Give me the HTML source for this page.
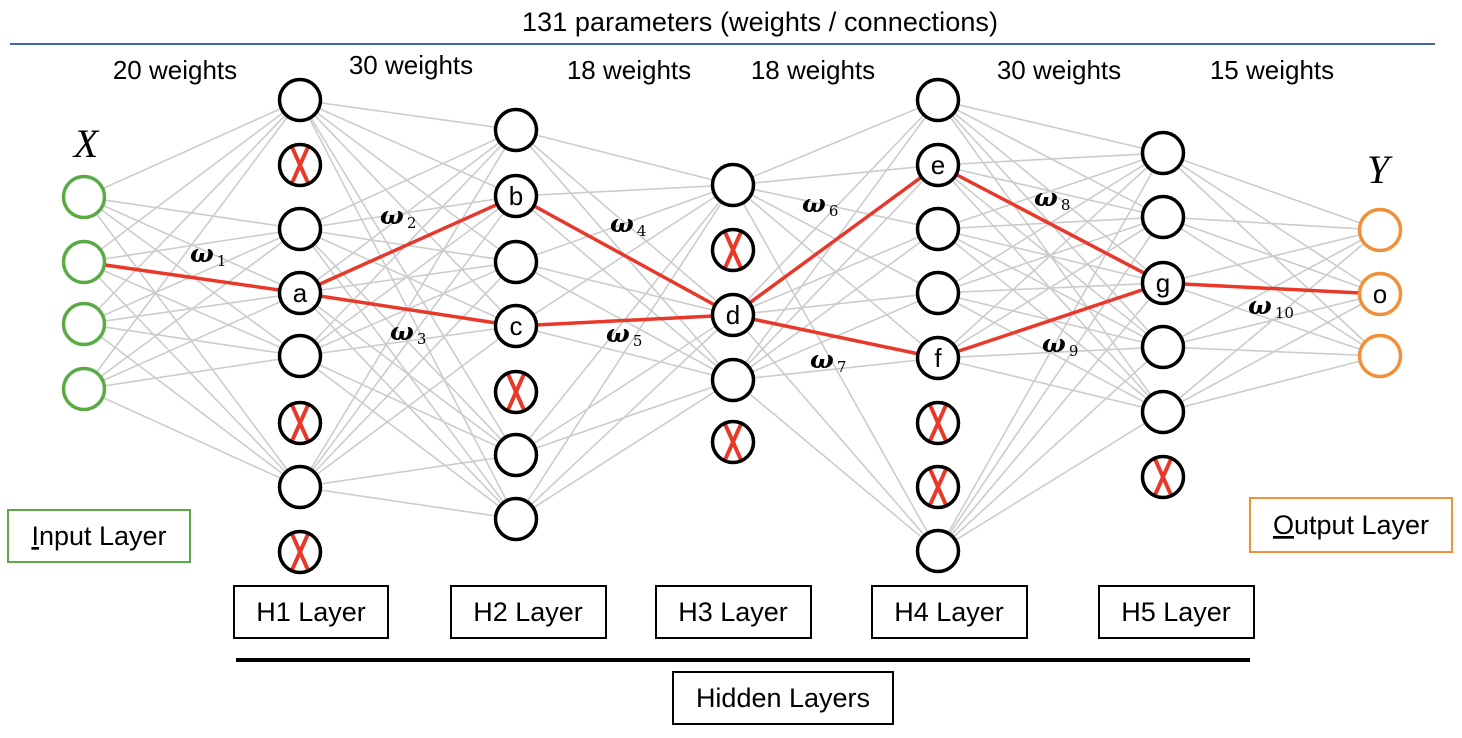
<!DOCTYPE html>
<html><head><meta charset="utf-8"><style>
html,body{margin:0;padding:0;background:#fff;}
svg{display:block;font-family:"Liberation Sans",sans-serif;}
</style></head><body>
<svg id="s" width="1462" height="738" viewBox="0 0 1462 738" xmlns="http://www.w3.org/2000/svg">
<rect width="1462" height="738" fill="#fff"/>
<g id="gray" stroke="#cccccc" stroke-width="1.6"></g>
<g id="red" stroke="#e8382a" stroke-width="3.5"></g>
<g id="nodes"></g>
<text x="760" y="31" font-size="27" text-anchor="middle" textLength="476">131 parameters (weights / connections)</text>
<line x1="10" y1="44" x2="1435" y2="44" stroke="#41689e" stroke-width="2"/>
<g font-size="26" text-anchor="middle">
<text x="175" y="79">20 weights</text>
<text x="411" y="74">30 weights</text>
<text x="629" y="79">18 weights</text>
<text x="813" y="79">18 weights</text>
<text x="1059" y="79">30 weights</text>
<text x="1272" y="79">15 weights</text>
</g>
<g font-family="Liberation Serif,serif" font-style="italic" font-size="40" text-anchor="middle">
<text x="86" y="157">X</text>
<text x="1378" y="183">Y</text>
</g>
<g font-family="DejaVu Serif,serif" font-style="italic" font-size="25" font-weight="bold">
<text x="190" y="262">ω<tspan font-size="15" font-weight="normal" font-style="normal" dx="3" dy="4">1</tspan></text>
<text x="380" y="224">ω<tspan font-size="15" font-weight="normal" font-style="normal" dx="3" dy="4">2</tspan></text>
<text x="390" y="340">ω<tspan font-size="15" font-weight="normal" font-style="normal" dx="3" dy="4">3</tspan></text>
<text x="610" y="232">ω<tspan font-size="15" font-weight="normal" font-style="normal" dx="3" dy="4">4</tspan></text>
<text x="606" y="342">ω<tspan font-size="15" font-weight="normal" font-style="normal" dx="3" dy="4">5</tspan></text>
<text x="802" y="212">ω<tspan font-size="15" font-weight="normal" font-style="normal" dx="3" dy="4">6</tspan></text>
<text x="810" y="368">ω<tspan font-size="15" font-weight="normal" font-style="normal" dx="3" dy="4">7</tspan></text>
<text x="1034" y="206">ω<tspan font-size="15" font-weight="normal" font-style="normal" dx="3" dy="4">8</tspan></text>
<text x="1042" y="352">ω<tspan font-size="15" font-weight="normal" font-style="normal" dx="3" dy="4">9</tspan></text>
<text x="1248" y="314">ω<tspan font-size="15" font-weight="normal" font-style="normal" dx="3" dy="4">10</tspan></text>
</g>
<g fill="none" stroke-width="2">
<rect x="8" y="510" width="182" height="52" stroke="#5aab46"/>
<rect x="1250" y="498" width="202" height="54" stroke="#f0913a"/>
<rect x="234" y="586" width="154" height="52" stroke="#000"/>
<rect x="451" y="586" width="155" height="52" stroke="#000"/>
<rect x="656" y="586" width="155" height="52" stroke="#000"/>
<rect x="872" y="586" width="155" height="52" stroke="#000"/>
<rect x="1099" y="586" width="155" height="52" stroke="#000"/>
<rect x="673" y="672" width="220" height="52" stroke="#000"/>
</g>
<line x1="236" y1="660" x2="1250" y2="660" stroke="#000" stroke-width="4"/>
<g font-size="27" text-anchor="middle">
<text x="99" y="545"><tspan text-decoration="underline">I</tspan>nput Layer</text>
<text x="1351" y="534"><tspan text-decoration="underline">O</tspan>utput Layer</text>
<text x="311" y="621">H1 Layer</text>
<text x="528" y="621">H2 Layer</text>
<text x="733" y="621">H3 Layer</text>
<text x="949" y="621">H4 Layer</text>
<text x="1176" y="621">H5 Layer</text>
<text x="783" y="707">Hidden Layers</text>
</g>
</svg>
<script>
const NS="http://www.w3.org/2000/svg";
const L=[
 {x:84,ys:[197,262,324,389],x_:[],c:"#5aab46"},
 {x:300,ys:[100,165,229,293,356,423,487,552],x_:[1,5,7]},
 {x:516,ys:[130,196,262,326,392,455,519],x_:[4]},
 {x:733,ys:[185,250,315,380,442],x_:[1,4]},
 {x:938,ys:[100,165,229,293,358,423,487,551],x_:[5,6]},
 {x:1163,ys:[153,217,283,347,412,477],x_:[5]},
 {x:1380,ys:[230,294,356],x_:[],c:"#f0913a"}
];
const lab={"1,3":"a","2,1":"b","2,3":"c","3,2":"d","4,1":"e","4,4":"f","5,2":"g","6,1":"o"};
function el(t,a,p){const e=document.createElementNS(NS,t);for(const k in a)e.setAttribute(k,a[k]);p.appendChild(e);return e;}
const g=document.getElementById("gray"),r=document.getElementById("red"),n=document.getElementById("nodes");
for(let i=0;i<L.length-1;i++){const A=L[i],B=L[i+1];
 A.ys.forEach((ya,ia)=>{if(A.x_.includes(ia))return;
  B.ys.forEach((yb,ib)=>{if(B.x_.includes(ib))return;
   el("line",{x1:A.x,y1:ya,x2:B.x,y2:yb},g);});});}
const P=[[0,1,1,3],[1,3,2,1],[1,3,2,3],[2,1,3,2],[2,3,3,2],[3,2,4,1],[3,2,4,4],[4,1,5,2],[4,4,5,2],[5,2,6,1]];
P.forEach(p=>el("line",{x1:L[p[0]].x,y1:L[p[0]].ys[p[1]],x2:L[p[2]].x,y2:L[p[2]].ys[p[3]]},r));
L.forEach((ly,i)=>ly.ys.forEach((y,j)=>{
 el("circle",{cx:ly.x,cy:y,r:20.5,fill:"#fff",stroke:"none"},n);
 if(ly.x_.includes(j)){
  el("line",{x1:ly.x-8,y1:y-18,x2:ly.x+8,y2:y+18,stroke:"#e8382a","stroke-width":4},n);
  el("line",{x1:ly.x+8,y1:y-18,x2:ly.x-8,y2:y+18,stroke:"#e8382a","stroke-width":4},n);}
 el("circle",{cx:ly.x,cy:y,r:20.5,fill:"none",stroke:ly.c||"#000","stroke-width":3.5},n);
 const t=lab[i+","+j];
 if(t){const e=el("text",{x:ly.x,y:y+9,"font-size":26,"text-anchor":"middle"},n);e.textContent=t;}
}));
</script>
</body></html>
